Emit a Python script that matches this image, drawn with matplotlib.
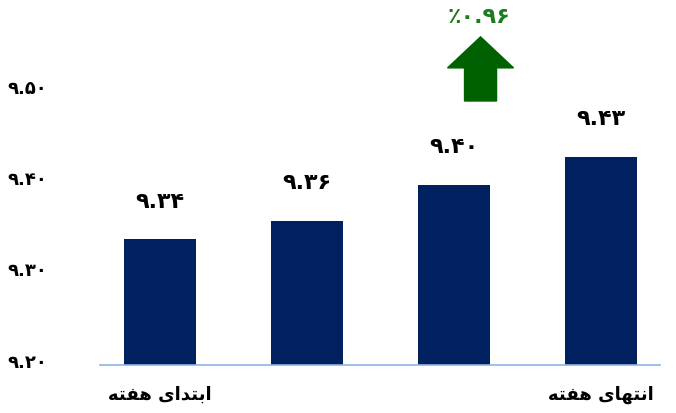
import matplotlib
matplotlib.use("Agg")
import matplotlib.pyplot as plt
import matplotlib.transforms as mtransforms
from matplotlib.patches import FancyArrow

# data
categories = ["ابتدای هفته", "", "", "انتهای هفته"]
values = [9.3375, 9.3576, 9.397, 9.4276]
value_labels = ["۹.۳۴", "۹.۳۶", "۹.۴۰", "۹.۴۳"]
yticks = [9.20, 9.30, 9.40, 9.50]
ytick_labels = ["۹.۲۰", "۹.۳۰", "۹.۴۰", "۹.۵۰"]
change_label = "٪۰.۹۶"

# minimal arabic shaping (matplotlib draws letters isolated and left-to-right)
FORMS = {  # isolated, final, initial, medial
    "ا": (0xFE8D, 0xFE8E, None, None),
    "د": (0xFEA9, 0xFEAA, None, None),
    "ب": (0xFE8F, 0xFE90, 0xFE91, 0xFE92),
    "ت": (0xFE95, 0xFE96, 0xFE97, 0xFE98),
    "ی": (0xFBFC, 0xFBFD, 0xFBFE, 0xFBFF),
    "ه": (0xFEE9, 0xFEEA, 0xFEEB, 0xFEEC),
    "ف": (0xFED1, 0xFED2, 0xFED3, 0xFED4),
    "ن": (0xFEE5, 0xFEE6, 0xFEE7, 0xFEE8),
}

def shape(text):
    out = []
    for i, ch in enumerate(text):
        if ch not in FORMS:
            out.append(ch)
            continue
        prev = text[i - 1] if i > 0 else " "
        nxt = text[i + 1] if i + 1 < len(text) else " "
        join_prev = prev in FORMS and FORMS[prev][2] is not None
        join_next = nxt in FORMS and FORMS[ch][2] is not None
        iso, fin, ini, med = FORMS[ch]
        if join_prev and join_next:
            out.append(chr(med))
        elif join_prev:
            out.append(chr(fin))
        elif join_next:
            out.append(chr(ini))
        else:
            out.append(chr(iso))
    return "".join(out)[::-1]

plt.rcParams["font.family"] = ["DejaVu Sans"]
plt.rcParams["font.weight"] = "bold"

fig = plt.figure(figsize=(6.76, 4.13), dpi=100)
ax = fig.add_axes([0.148, 0.116, 0.828, 0.775])

base = 9.20
x = range(len(values))
ax.bar(x, [v - base for v in values], bottom=base, width=0.49, color="#002060")

for xi, v, lab in zip(x, values, value_labels):
    ax.annotate(lab, (xi, v), xytext=(0, 27), textcoords="offset points",
                ha="center", va="center", fontsize=16, fontweight="bold")

ax.set_xlim(-0.41, 3.4)
ax.set_ylim(base, 9.55)
ax.set_yticks(yticks)
ax.set_yticklabels(ytick_labels, fontsize=13, fontweight="bold")
ax.set_xticks(list(x))
ax.set_xticklabels([shape(c) for c in categories], fontsize=13, fontweight="bold")
ax.tick_params(axis="both", length=0)
ax.tick_params(axis="y", pad=38)
ax.tick_params(axis="x", pad=15)

# y labels sit a little above their gridline positions
shift = mtransforms.ScaledTranslation(0, 3 / 72, fig.dpi_scale_trans)
for lbl in ax.get_yticklabels():
    lbl.set_transform(lbl.get_transform() + shift)

for s in ["top", "right", "left"]:
    ax.spines[s].set_visible(False)
ax.spines["bottom"].set_color("#8EB4E3")
ax.spines["bottom"].set_linewidth(1.2)

# growth arrow and percentage
arrow = FancyArrow(2.18, 9.4888, 0, 0.0701, width=0.218, head_width=0.449,
                   head_length=0.0339, length_includes_head=True,
                   color="#006100", clip_on=False)
ax.add_patch(arrow)
ax.text(2.17, 9.5807, change_label, ha="center", va="center", fontsize=16,
        fontweight="bold", color="#1E7B1E", clip_on=False)

fig.savefig("out.png", dpi=100)
